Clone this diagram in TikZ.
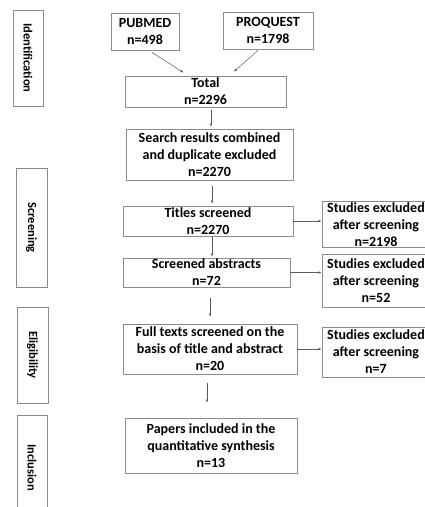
\documentclass[tikz,border=0pt]{standalone}
\usepackage{fontspec}
\setmainfont{Carlito}
\usetikzlibrary{arrows.meta,calc}

\definecolor{boxline}{RGB}{140,140,140}
\definecolor{arrowline}{RGB}{90,90,90}

\tikzset{
  flowbox/.style={draw=boxline, line width=0.8pt, align=center, inner sep=1pt,
    font=\fontsize{14}{17}\selectfont\bfseries},
  stagebox/.style={draw=boxline, line width=0.8pt, inner sep=0pt},
  stagetext/.style={font=\fontsize{12.5}{14}\selectfont\bfseries, rotate=-90},
  arr/.style={draw=arrowline, line width=0.5pt, -{Latex[length=3pt,width=2.5pt]}}
}

\begin{document}
\begin{tikzpicture}[x=1pt, y=-1pt]

		\useasboundingbox (0,0) rectangle (425,507);
		\clip (0,0) rectangle (425,507);

		% Phasen links
		\node[stagebox, minimum width=30, minimum height=96] (ident) at (28,58) {};
		\node[stagebox, minimum width=31, minimum height=119] (screen) at (31.5,227.5) {};
		\node[stagebox, minimum width=31, minimum height=96] (elig) at (32.5,355) {};
		\node[stagebox, minimum width=30, minimum height=105] (incl) at (32,467.5) {};
		\foreach \n/\txt in {ident/Identification, screen/Screening, elig/Eligibility, incl/Inclusion} {
			\node[stagetext] at (\n) {\txt};
		}

		% Quellen
		\node[flowbox, minimum width=68, minimum height=37] (pubmed) at (145,31.5) {PUBMED\\n=498};
		\node[flowbox, minimum width=90, minimum height=37] (proquest) at (268,30.5) {PROQUEST\\n=1798};

		% Hauptkette
		\node[flowbox, minimum width=161, minimum height=31] (total) at (205.5,91.5) {Total\\n=2296};
		\node[flowbox, minimum width=167, minimum height=51] (search) at (209.5,154.5) {Search results combined\\and duplicate excluded\\n=2270};
		\node[flowbox, minimum width=170, minimum height=30] (titles) at (208,221) {Titles screened\\n=2270};
		\node[flowbox, minimum width=167, minimum height=29] (abstracts) at (206.5,272.5) {Screened abstracts\\n=72};
		\node[flowbox, minimum width=174, minimum height=50] (fulltext) at (210,349) {Full texts screened on the\\basis of title and abstract\\n=20};
		\node[flowbox, minimum width=172, minimum height=55] (papers) at (211,445.5) {Papers included in the\\quantitative synthesis\\n=13};

		% Ausgeschlossene Studien rechts
		\node[flowbox, minimum width=108, minimum height=37] (exclA) at (376,224.5) {Studies excluded\\after screening\\n=2198};
		\node[flowbox, minimum width=108, minimum height=53] (exclB) at (376,280.5) {Studies excluded\\after screening\\n=52};
		\node[flowbox, minimum width=108, minimum height=50] (exclC) at (376,352) {Studies excluded\\after screening\\n=7};

		% Pfeile
		\draw[arr] ($(pubmed.south)+(7,2)$) -- ($(total.north)+(-22,-3)$);
		\draw[arr] ($(proquest.south)+(-10,1)$) -- ($(total.north)+(28.5,-4)$);
		\draw[arr] ($(total.south)+(5.5,3)$) -- ($(search.north)+(1.5,-2)$);
		\draw[arr] ($(search.south)+(2.5,6)$) -- ($(titles.north)+(4,-2)$);
		\draw[arr] ($(titles.south)+(4,0)$) -- ($(abstracts.north)+(5.5,-1)$);
		\draw[arr] ($(abstracts.south)+(3.5,11)$) -- ($(fulltext.north)+(0,-7)$);
		\draw[arr] ($(fulltext.south)+(-3,9)$) -- ($(papers.north)+(-4,-15)$);

		\draw[arr] (titles.east) -- (titles.east -| exclA.west);
		\draw[arr] (abstracts.east) -- (abstracts.east -| exclB.west);
		\draw[arr] (fulltext.east) -- (fulltext.east -| exclC.west);

\end{tikzpicture}
\end{document}
